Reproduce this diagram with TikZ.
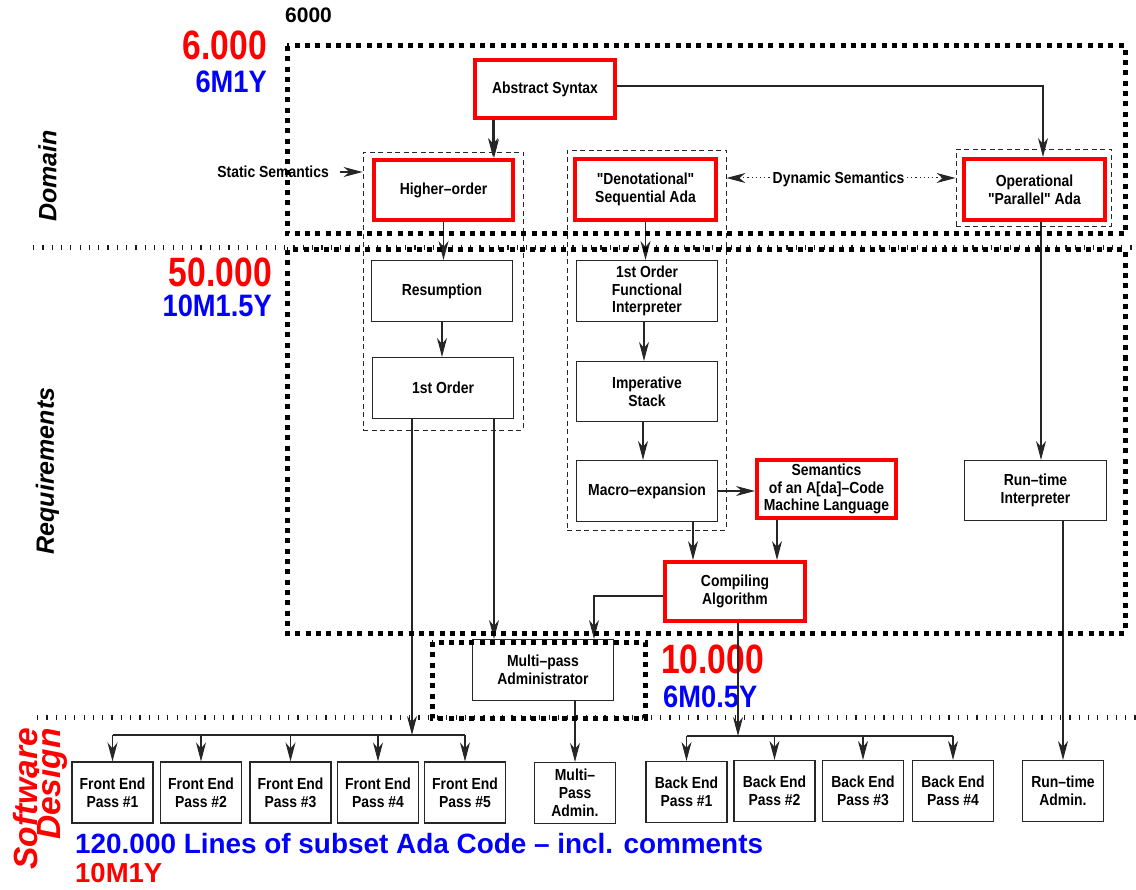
\documentclass[tikz,border=0pt]{standalone}
\usepackage{fontspec}
\setmainfont{Liberation Sans}
\newfontfamily\narrowsf[FakeStretch=0.87]{Liberation Sans}
\newfontfamily\bignum[FakeStretch=0.82]{Liberation Sans}
\newfontfamily\midnum[FakeStretch=0.88]{Liberation Sans}
\usetikzlibrary{arrows.meta,calc}

\tikzset{
  lbl/.style={font={\narrowsf\bfseries\fontsize{16}{17.8}\selectfont}, align=center},
  plainbox/.style={lbl, draw=black!85, line width=1.1pt, inner sep=0pt,
    minimum width=141pt, minimum height=61pt},
  redbox/.style={lbl, draw=red, line width=4pt, inner sep=0pt},
  smallbox/.style={lbl, draw=black!85, line width=1.1pt, inner sep=0pt,
    minimum width=81pt, minimum height=61pt},
  group/.style={draw=black!85, line width=0.9pt, dash pattern=on 5pt off 3.5pt, inner sep=0pt},
  heavydots/.style={line width=5pt, dash pattern=on 5pt off 5.3pt},
  ticks/.style={draw=black!90, line width=5pt, dash pattern=on 1.2pt off 8.1pt},
  conn/.style={line width=1.1pt, draw=black!85},
  tip/.tip={Stealth[length=19pt,width=10pt,inset=6pt]},
  arr/.style={conn, -tip},
  dotarr/.style={line width=1pt, draw=black!85, dash pattern=on 1.2pt off 3pt, tip-tip},
  bigred/.style={text=red, inner sep=0pt, font={\bignum\bfseries\fontsize{41}{41}\selectfont}},
  midblue/.style={text=blue, inner sep=0pt, font={\midnum\bfseries\fontsize{31}{31}\selectfont}},
  side/.style={rotate=90, inner sep=0pt, font={\bfseries\itshape\fontsize{25}{25}\selectfont}},
}

\begin{document}
\begin{tikzpicture}[x=1pt,y=-1pt]
\useasboundingbox (0,0) rectangle (1136,890);

% level separators
\draw[ticks] (33,248) -- (1136,248);
\draw[ticks] (37,717) -- (1136,717);

% side captions and effort figures
\node[anchor=base west, inner sep=0pt, font={\bfseries\fontsize{21}{21}\selectfont}] (hdr) at (285,23) {6000};
\node[bigred, anchor=base east] (effD) at (267,60) {6.000};
\node[midblue, anchor=base east] (timeD) at (267,93) {6M1Y};
\node[bigred, anchor=base east] (effR) at (272,287) {50.000};
\node[midblue, anchor=base east] (timeR) at (272,317) {10M1.5Y};
\node[bigred, anchor=base west] (effC) at (661,673) {10.000};
\node[midblue, anchor=base west] (timeC) at (663,707) {6M0.5Y};
\node[side] (dom) at (47.5,176) {Domain};
\node[side] (req) at (47.5,471) {Requirements};
\node[rotate=90, align=right, text=red, inner sep=0pt,
  font={\bfseries\itshape\fontsize{33.5}{23}\selectfont\lineskiplimit=-50pt}] (sd) at (40,799) {Software\\Design};
\node[anchor=base west, inner sep=0pt, text=blue, font={\bfseries\fontsize{27.9}{28}\selectfont}] (loc) at (75,853)
  {120.000 Lines of subset Ada Code – incl. comments};
\node[anchor=base west, inner sep=0pt, text=red, font={\bfseries\fontsize{27.5}{27.5}\selectfont}] (timeS) at (75,882) {10M1Y};

% dashed groupings
\node[group, minimum width=160pt, minimum height=278pt] (HOg) at (443,291) {};
\node[group, minimum width=159pt, minimum height=380pt] (Deng) at (646.5,340) {};
\node[group, minimum width=155pt, minimum height=77pt] (Opg) at (1033.5,187.5) {};

% domain level
\node[redbox, minimum width=140pt, minimum height=58pt] (AS) at (545,89) {Abstract Syntax};
\node[redbox, minimum width=139pt, minimum height=60pt] (HO) at (443.5,190) {Higher–order};
\node[redbox, minimum width=141pt, minimum height=61pt] (Den) at (645.5,189.5) {"Denotational"\\Sequential Ada};
\node[redbox, minimum width=141pt, minimum height=61pt] (Op) at (1034.5,189.5) {Operational\\"Parallel" Ada};
\node[lbl, anchor=east, inner sep=0pt] (static) at (329,172) {Static Semantics};

% requirements level
\node[plainbox] (Res) at (442,291) {Resumption};
\node[plainbox] (FO) at (443,388) {1st Order};
\node[plainbox] (FOFI) at (647,291) {1st Order\\Functional\\Interpreter};
\node[plainbox, minimum height=60pt] (Imp) at (647,391.5) {Imperative\\Stack};
\node[plainbox] (Mac) at (647,491) {Macro–expansion};
\node[redbox, minimum width=139pt, minimum height=58pt] (Sem) at (826.5,489) {Semantics\\of an A[da]–Code\\Machine Language};
\node[plainbox, minimum width=142pt, minimum height=60pt] (RTI) at (1035.5,490.5) {Run–time\\Interpreter};
\node[redbox, minimum width=140pt, minimum height=59pt] (Comp) at (735,591.5) {Compiling\\Algorithm};
\node[plainbox] (MPA) at (543,670) {Multi–pass\\Administrator};

% software design level
\node[smallbox] (FE1) at (112.5,792.5) {Front End\\Pass \#1};
\node[smallbox] (FE2) at (201,792.5) {Front End\\Pass \#2};
\node[smallbox] (FE3) at (290.5,792.5) {Front End\\Pass \#3};
\node[smallbox] (FE4) at (378,792.5) {Front End\\Pass \#4};
\node[smallbox] (FE5) at (465,792.5) {Front End\\Pass \#5};
\node[smallbox] (MPAdm) at (575,793) {Multi–\\Pass\\Admin.};
\node[smallbox] (BE1) at (686.5,792) {Back End\\Pass \#1};
\node[smallbox] (BE2) at (774.5,791) {Back End\\Pass \#2};
\node[smallbox] (BE3) at (863,791) {Back End\\Pass \#3};
\node[smallbox] (BE4) at (953,791) {Back End\\Pass \#4};
\node[smallbox] (RTA) at (1063,791) {Run–time\\Admin.};

% connectors
\draw[arr] ([xshift=-51pt]AS.south) -- ([xshift=-51pt]AS.south |- HO.north);
\draw[arr] ([xshift=-52pt]AS.south) -- ([xshift=-52pt]AS.south |- Den.north);
\draw[arr] ([yshift=3pt]AS.east) -| ([xshift=8.5pt]Op.north);
\draw[arr] ([xshift=11pt]static.east) -- (static.east -| HOg.west);

% dynamic semantics link, label laid over the dotted line
\coordinate (dynrow) at (838.5,178);
\draw[dotarr] (Deng.east |- dynrow) -- (Opg.west |- dynrow);
\node[lbl, fill=white, inner sep=1.5pt] (dyn) at (838.5,179.5) {Dynamic Semantics};

\draw[arr] (HO.south) -- (HO.south |- Res.north);
\draw[arr] (Res.south) -- (Res.south |- FO.north);
\draw[arr] (Den.south) -- (Den.south |- FOFI.north);
\draw[arr] ([xshift=-3pt]FOFI.south) -- ([xshift=-3pt]FOFI.south |- Imp.north);
\draw[arr] ([xshift=-4pt]Imp.south) -- ([xshift=-4pt]Imp.south |- Mac.north);
\draw[arr] (Mac.east) -- (Mac.east -| Sem.west);
\draw[arr] ([xshift=46pt]Mac.south) -- ([xshift=46pt]Mac.south |- Comp.north);
\draw[arr] ([xshift=-49.5pt]Sem.south) -- ([xshift=-49.5pt]Sem.south |- Comp.north);
\draw[arr] ([yshift=-4.5pt]Comp.west) -| ([xshift=51pt]MPA.north);
\draw[arr] ([xshift=51pt]FO.south) -- ([xshift=51pt]FO.south |- MPA.north);
\draw[arr] ([xshift=6.5pt]Op.south) -- ([xshift=6.5pt]Op.south |- RTI.north);
\draw[arr] (RTI.south -| RTA.north) -- (RTA.north);
\draw[arr] (MPA.south -| MPAdm.north) -- (MPAdm.north);

% front end distribution
\coordinate (busF) at (412,735);
\draw[arr] ([xshift=-31pt]FO.south) -- ([xshift=-31pt]FO.south |- busF);
\draw[conn] (FE1.north |- busF) -- (FE5.north |- busF);
\foreach \n in {FE1,FE2,FE3,FE4,FE5}
  \draw[arr] (\n.north |- busF) -- (\n.north);

% back end distribution
\coordinate (busB) at (738,736);
\draw[arr] ([xshift=3pt]Comp.south) -- ([xshift=3pt]Comp.south |- busB);
\draw[conn] (BE1.north |- busB) -- (BE4.north |- busB);
\foreach \n in {BE1,BE2,BE3,BE4}
  \draw[arr] (\n.north |- busB) -- (\n.north);

% level frames
\draw[heavydots] (287,46) rectangle (1125,234);
\draw[heavydots] (287,250) rectangle (1125,633);
\draw[heavydots] (432,642) rectangle (645,718);
\end{tikzpicture}
\end{document}
